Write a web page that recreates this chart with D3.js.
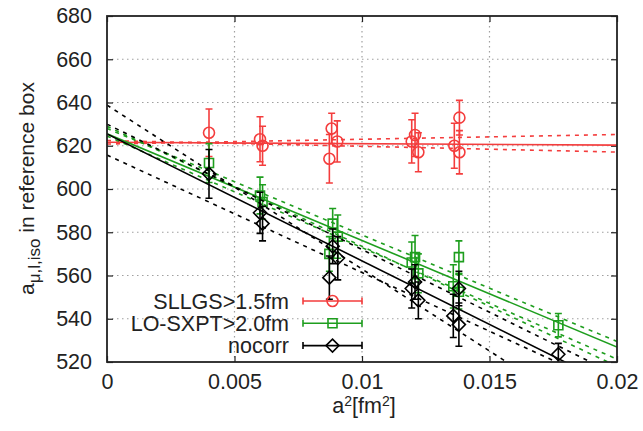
<!DOCTYPE html>
<html>
<head>
<meta charset="utf-8">
<script src="https://cdn.jsdelivr.net/npm/d3@7"></script>
<style>
  body { margin: 0; background: #fff; }
  svg { display: block; font-family: 'Liberation Sans', Arial, sans-serif; }
</style>
</head>
<body>
<svg id="chart"></svg>
<script>
// ---- data ----
const xTicks = [0, 0.005, 0.01, 0.015, 0.02]
const xTickLabels = ['0', '0.005', '0.01', '0.015', '0.02']
const yTicks = [520, 540, 560, 580, 600, 620, 640, 660, 680]

const seriesNames = ['SLLGS>1.5fm', 'LO-SXPT>2.0fm', 'nocorr']

const redX = [0.0040, 0.0060, 0.0061, 0.00881, 0.00872, 0.00903, 0.01208, 0.01195, 0.01221, 0.01382, 0.01362, 0.01382]
const redY = [626, 623, 620, 628, 614, 622, 625, 622, 617, 633, 620, 617]
const redErr = [11, 10.4, 9, 7, 11.2, 9.5, 10, 10, 9, 8, 10.4, 10]

const greenX = [0.0040, 0.0060, 0.0061, 0.00885, 0.00905, 0.00872, 0.01208, 0.01195, 0.01221, 0.0138, 0.01358, 0.0138, 0.0177]
const greenY = [612, 597, 594, 584, 578, 570, 568.5, 566, 561, 568.5, 555, 552.5, 537]
const greenErr = [9, 8.5, 8, 7, 10, 8, 10, 9.5, 9, 7.5, 10, 8, 5.4]

const blackX = [0.0040, 0.0060, 0.0061, 0.00885, 0.00905, 0.00872, 0.01195, 0.01208, 0.01221, 0.0138, 0.01358, 0.0138, 0.0177]
const blackY = [607, 589, 584, 573.5, 568, 559, 554, 557, 548.5, 554, 541.3, 537.3, 523.6]
const blackErr = [11.3, 9.5, 8, 8, 10, 10, 9, 8, 8.5, 8, 10, 10, 5]

// fit lines: [intercept, slope]
const redFit = [621.6, -65]
const redFitVar = [[620.8, 220], [622.4, -266]]
const greenFit = [625.5, -4930]
const greenFitVar = [[628, -4925], [629, -5550], [624.5, -5160]]
const blackFit = [625.5, -5874]
const blackFitVar = [[638.8, -7580], [630, -5800], [615.7, -5430]]

// ---- layout ----
const margin = { top: 16, left: 107, right: 26, bottom: 69 }
const width = 643 - margin.left - margin.right
const height = 431 - margin.top - margin.bottom
const fontSize = 21.5

const colors = { red: '#f43d3d', green: '#1e9e1e', black: '#000' }

const svgRoot = d3.select('#chart').attr('width', 643).attr('height', 431)

svgRoot.append('defs').append('clipPath').attr('id', 'plotclip')
  .append('rect').attr('width', width).attr('height', height)

const svg = svgRoot.append('g')
  .attr('transform', 'translate(' + margin.left + ',' + margin.top + ')')

const xScale = d3.scaleLinear().domain([0, 0.02]).range([0, width])
const yScale = d3.scaleLinear().domain([520, 680]).range([height, 0])

// grid
svg.append('g').selectAll('line')
  .data(xTicks.slice(1, -1))
  .join('line')
  .attr('x1', d => xScale(d)).attr('x2', d => xScale(d))
  .attr('y1', 0).attr('y2', height)
  .attr('stroke', '#a0a0a0').attr('stroke-width', 1.2)
  .attr('stroke-dasharray', '1.5,3.5')

svg.append('g').selectAll('line')
  .data(yTicks.slice(1, -1))
  .join('line')
  .attr('y1', d => yScale(d)).attr('y2', d => yScale(d))
  .attr('x1', 0).attr('x2', width)
  .attr('stroke', '#a0a0a0').attr('stroke-width', 1.2)
  .attr('stroke-dasharray', '1.5,3.5')

// axes: inward ticks on all four sides
const yLeft = svg.append('g').attr('class', 'axis y-axis')
  .call(d3.axisLeft(yScale).tickValues(yTicks).tickSize(-6).tickPadding(15))
const yRight = svg.append('g').attr('transform', 'translate(' + width + ',0)')
  .call(d3.axisRight(yScale).tickValues(yTicks).tickSize(-6).tickFormat(''))
const xBottom = svg.append('g').attr('class', 'axis x-axis')
  .attr('transform', 'translate(0,' + height + ')')
  .call(d3.axisBottom(xScale).tickValues(xTicks).tickSize(-6).tickPadding(12)
    .tickFormat((d, i) => xTickLabels[i]))
const xTop = svg.append('g')
  .call(d3.axisTop(xScale).tickValues(xTicks).tickSize(-6).tickFormat(''))

;[yLeft, yRight, xBottom, xTop].forEach(g => {
  g.select('.domain').remove()
  g.selectAll('.tick line').attr('stroke', '#222').attr('stroke-width', 1.2)
  g.selectAll('.tick text').attr('font-size', fontSize).attr('fill', '#222')
    .attr('font-family', "'Liberation Sans', Arial, sans-serif")
})

const plot = svg.append('g').attr('clip-path', 'url(#plotclip)')

function drawFit(fit, color, dashed) {
  plot.append('path')
    .datum(xScale.domain())
    .attr('d', d3.line().x(d => xScale(d)).y(d => yScale(fit[0] + fit[1] * d)))
    .attr('stroke', color)
    .attr('stroke-width', 1.6)
    .attr('fill', 'none')
    .attr('stroke-dasharray', dashed ? '4,5' : null)
}

function drawPoints(xs, ys, errs, color, symbol) {
  const pts = xs.map((x, i) => ({ x: x, y: ys[i], e: errs[i] }))
  const g = plot.append('g')
    .attr('stroke', color).attr('stroke-width', 1.6).attr('fill', 'none')
  g.selectAll('.bar').data(pts).join('path')
    .attr('class', 'bar')
    .attr('d', d => {
      const x = xScale(d.x), y0 = yScale(d.y - d.e), y1 = yScale(d.y + d.e)
      return 'M' + x + ',' + y0 + 'V' + y1 +
        'M' + (x - 3.5) + ',' + y0 + 'H' + (x + 3.5) +
        'M' + (x - 3.5) + ',' + y1 + 'H' + (x + 3.5)
    })
  g.selectAll('.sym').data(pts).join('path')
    .attr('class', 'sym')
    .attr('transform', d => 'translate(' + xScale(d.x) + ',' + yScale(d.y) + ')')
    .attr('d', symbol)
}

const circleSym = d3.symbol(d3.symbolCircle, 95)()
const squareSym = 'M-4.5,-4.5H4.5V4.5H-4.5Z'
const diamondSym = 'M0,-6.5L6.5,0L0,6.5L-6.5,0Z'

drawFit(redFit, colors.red, false)
redFitVar.forEach(f => drawFit(f, colors.red, true))
drawPoints(redX, redY, redErr, colors.red, circleSym)

drawFit(greenFit, colors.green, false)
greenFitVar.forEach(f => drawFit(f, colors.green, true))
drawPoints(greenX, greenY, greenErr, colors.green, squareSym)

drawFit(blackFit, colors.black, false)
blackFitVar.forEach(f => drawFit(f, colors.black, true))
drawPoints(blackX, blackY, blackErr, colors.black, diamondSym)

// frame
svg.append('rect')
  .attr('width', width).attr('height', height)
  .attr('fill', 'none').attr('stroke', '#222').attr('stroke-width', 1.8)

// legend
const legendColors = [colors.red, colors.green, colors.black]
const legendSyms = [circleSym, squareSym, diamondSym]
seriesNames.forEach((name, i) => {
  const ly = 301 - margin.top + i * 22.3
  svg.append('text')
    .attr('x', 289 - margin.left).attr('y', ly + 7.5)
    .attr('text-anchor', 'end')
    .attr('font-size', fontSize).attr('fill', '#222')
    .text(name)
  const lg = svg.append('g').attr('stroke', legendColors[i]).attr('stroke-width', 1.6).attr('fill', 'none')
  const lx0 = 303 - margin.left, lx1 = 362 - margin.left
  lg.append('path').attr('d', 'M' + lx0 + ',' + ly + 'H' + lx1 +
    'M' + lx0 + ',' + (ly - 3.5) + 'V' + (ly + 3.5) +
    'M' + lx1 + ',' + (ly - 3.5) + 'V' + (ly + 3.5))
  lg.append('path').attr('transform', 'translate(' + (lx0 + lx1) / 2 + ',' + ly + ')')
    .attr('d', legendSyms[i])
})

// axis labels
const xLabel = svg.append('text')
  .attr('x', width / 2 + 2).attr('y', 413 - margin.top)
  .attr('text-anchor', 'middle').attr('font-size', fontSize).attr('fill', '#222')
xLabel.append('tspan').text('a')
xLabel.append('tspan').attr('dy', -7).attr('font-size', 14).text('2')
xLabel.append('tspan').attr('dy', 7).text('[fm')
xLabel.append('tspan').attr('dy', -7).attr('font-size', 14).text('2')
xLabel.append('tspan').attr('dy', 7).text(']')

const yLabel = svg.append('text')
  .attr('transform', 'translate(' + (34 - margin.left) + ',' + (188.5 - margin.top) + ') rotate(-90)')
  .attr('text-anchor', 'middle').attr('font-size', 21).attr('fill', '#222')
yLabel.append('tspan').text('a')
yLabel.append('tspan').attr('dy', 6).attr('font-size', 17).text('μ,l,iso')
yLabel.append('tspan').attr('dy', -6).text(' in reference box')
</script>
</body>
</html>
